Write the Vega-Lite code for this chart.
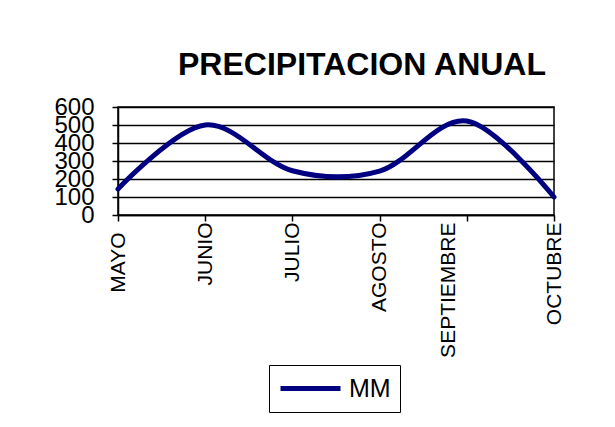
{
  "$schema": "https://vega.github.io/schema/vega-lite/v6.json",
  "width": 436,
  "height": 108,
  "autosize": {"type": "none"},
  "padding": {"left": 118, "top": 107, "right": 61, "bottom": 212},
  "background": "white",
  "title": {
    "text": "PRECIPITACION ANUAL",
    "font": "Liberation Sans",
    "fontSize": 32,
    "fontWeight": "bold",
    "color": "black",
    "anchor": "middle",
    "dx": 26,
    "offset": 13
  },
  "data": {
    "values": [
      {"mes": "MAYO", "mm": 145, "serie": "MM"},
      {"mes": "JUNIO", "mm": 500, "serie": "MM"},
      {"mes": "JULIO", "mm": 246, "serie": "MM"},
      {"mes": "AGOSTO", "mm": 244, "serie": "MM"},
      {"mes": "SEPTIEMBRE", "mm": 522, "serie": "MM"},
      {"mes": "OCTUBRE", "mm": 100, "serie": "MM"}
    ]
  },
  "mark": {"type": "line", "interpolate": "cardinal", "tension": 0, "strokeWidth": 5, "strokeCap": "round"},
  "encoding": {
    "x": {
      "field": "mes",
      "type": "ordinal",
      "sort": null,
      "scale": {"type": "point", "padding": 0},
      "axis": {
        "title": null,
        "labelAngle": 270,
        "labelFont": "Liberation Sans",
        "labelFontSize": 21,
        "labelColor": "black",
        "labelPadding": {"condition": {"test": "datum.value == 'MAYO'", "value": 11}, "value": 1},
        "labelOffset": {"condition": {"test": "datum.value == 'SEPTIEMBRE'", "value": -18}, "value": 0},
        "tickSize": 6,
        "tickColor": "black",
        "tickWidth": 1.5,
        "domainColor": "black",
        "domainWidth": 1.5,
        "grid": false,
        "labelOverlap": false
      }
    },
    "y": {
      "field": "mm",
      "type": "quantitative",
      "scale": {"domain": [0, 600], "nice": false},
      "axis": {
        "title": null,
        "values": [0, 100, 200, 300, 400, 500, 600],
        "labelFont": "Liberation Sans",
        "labelFontSize": 24,
        "labelColor": "black",
        "labelPadding": 18,
        "labelOverlap": false,
        "labelFlush": false,
        "tickSize": 6,
        "tickColor": "black",
        "tickWidth": 1.5,
        "domainColor": "black",
        "domainWidth": 1.5,
        "grid": true,
        "gridColor": "black",
        "gridWidth": 1.5,
        "gridOpacity": 1
      }
    },
    "color": {
      "field": "serie",
      "type": "nominal",
      "scale": {"range": ["#000080"]},
      "legend": {
        "title": null,
        "orient": "none",
        "legendX": 151,
        "legendY": 258,
        "direction": "horizontal",
        "symbolType": "stroke",
        "symbolStrokeWidth": 5,
        "symbolSize": 3600,
        "clipHeight": 29,
        "labelFont": "Liberation Sans",
        "labelFontSize": 25,
        "labelColor": "black",
        "labelOffset": 6,
        "strokeColor": "black",
        "padding": 9
      }
    }
  },
  "config": {
    "view": {"stroke": "black", "strokeWidth": 1.5}
  }
}
